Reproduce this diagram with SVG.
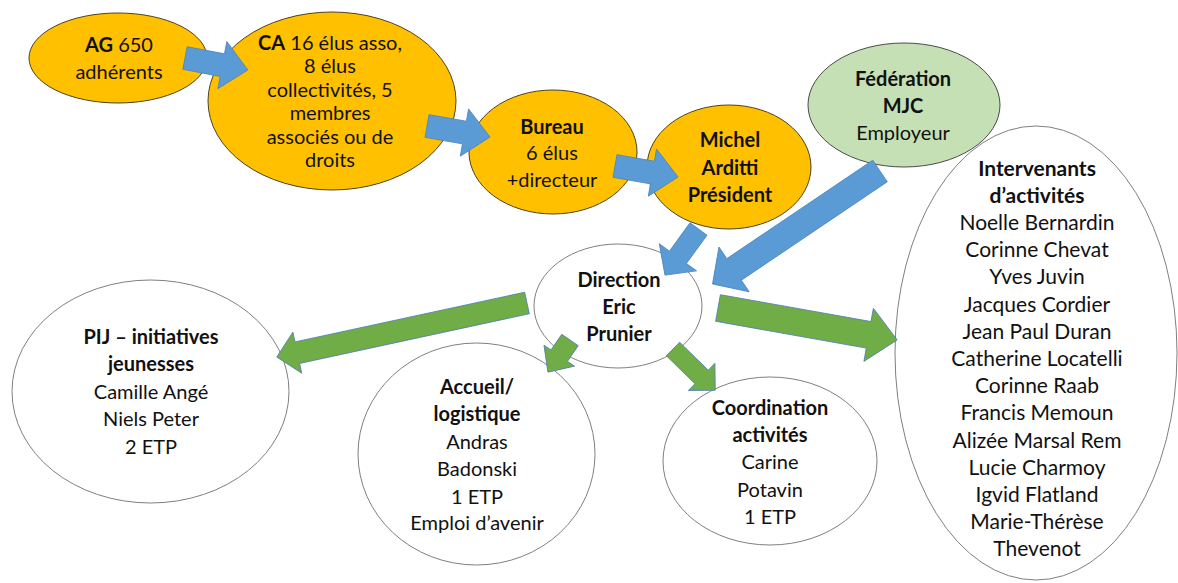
<svg xmlns="http://www.w3.org/2000/svg" width="1178" height="583" viewBox="0 0 1178 583">
<style>
text{font-family:Lato,"Liberation Sans",Arial,sans-serif;font-size:20px;fill:#111;text-anchor:middle}
.b{font-weight:bold}
.s19{font-size:20px}
.s21{font-size:21px}
.org{fill:#FFC000;stroke:#4d4220;stroke-width:1}
.grn{fill:#C5E0B4;stroke:#4a4a4a;stroke-width:1}
.wht{fill:#fff;stroke:#7f7f7f;stroke-width:1}
.blue{fill:#5B9BD5;stroke:#4a84bf;stroke-width:0.8}
.green{fill:#70AD47;stroke:#4f7fae;stroke-width:0.8}
</style>
<rect width="1178" height="583" fill="#fff"/>
<g id="ag">
<ellipse class="org" cx="118" cy="58" rx="89" ry="45"/>
<text><tspan x="119" y="52"><tspan class="b">AG</tspan> 650</tspan><tspan x="119" y="79">adhérents</tspan></text>
</g>
<g id="ca">
<ellipse class="org" cx="332" cy="101" rx="124" ry="89"/>
<text class="s19"><tspan x="330" y="49.5"><tspan class="b">CA</tspan> 16 élus asso,</tspan><tspan x="330" y="73">8 élus</tspan><tspan x="330" y="96.5">collectivités, 5</tspan><tspan x="330" y="120">membres</tspan><tspan x="330" y="143.5">associés ou de</tspan><tspan x="330" y="167">droits</tspan></text>
</g>
<g id="bureau">
<ellipse class="org" cx="553" cy="152" rx="84" ry="62"/>
<text><tspan class="b" x="552" y="134">Bureau</tspan><tspan x="552" y="160">6 élus</tspan><tspan x="552" y="187">+directeur</tspan></text>
</g>
<g id="president">
<ellipse class="org" cx="729" cy="167" rx="82" ry="62"/>
<text class="b"><tspan x="730" y="147">Michel</tspan><tspan x="730" y="175">Arditti</tspan><tspan x="730" y="202">Président</tspan></text>
</g>
<g id="federation">
<ellipse class="grn" cx="904" cy="105" rx="96" ry="62"/>
<text><tspan class="b" x="903" y="86">Fédération</tspan><tspan class="b" x="903" y="113">MJC</tspan><tspan x="903" y="140">Employeur</tspan></text>
</g>
<g id="direction">
<ellipse class="wht" cx="618" cy="306" rx="84" ry="62"/>
<text class="b"><tspan x="619" y="287">Direction</tspan><tspan x="619" y="314">Eric</tspan><tspan x="619" y="341">Prunier</tspan></text>
</g>
<g id="pij">
<ellipse class="wht" cx="150.5" cy="391.5" rx="138.5" ry="111.5"/>
<text><tspan class="b" x="151" y="344">PIJ – initiatives</tspan><tspan class="b" x="151" y="371">jeunesses</tspan><tspan x="151" y="399">Camille Angé</tspan><tspan x="151" y="426">Niels Peter</tspan><tspan x="151" y="454">2 ETP</tspan></text>
</g>
<g id="accueil">
<ellipse class="wht" cx="476.5" cy="454" rx="118.5" ry="111"/>
<text><tspan class="b" x="477" y="394">Accueil/</tspan><tspan class="b" x="477" y="421">logistique</tspan><tspan x="477" y="449">Andras</tspan><tspan x="477" y="476">Badonski</tspan><tspan x="477" y="504">1 ETP</tspan><tspan x="477" y="530">Emploi d’avenir</tspan></text>
</g>
<g id="coordination">
<ellipse class="wht" cx="770" cy="461" rx="107" ry="84"/>
<text><tspan class="b" x="770" y="415">Coordination</tspan><tspan class="b" x="770" y="442">activités</tspan><tspan x="770" y="469">Carine</tspan><tspan x="770" y="497">Potavin</tspan><tspan x="770" y="524">1 ETP</tspan></text>
</g>
<g id="intervenants">
<ellipse class="wht" cx="1036" cy="353" rx="141" ry="227"/>
<text class="s21"><tspan class="b" x="1037" y="175.5">Intervenants</tspan><tspan class="b" x="1037" y="202.7">d’activités</tspan><tspan x="1037" y="229.9">Noelle Bernardin</tspan><tspan x="1037" y="257.1">Corinne Chevat</tspan><tspan x="1037" y="284.3">Yves Juvin</tspan><tspan x="1037" y="311.5">Jacques Cordier</tspan><tspan x="1037" y="338.7">Jean Paul Duran</tspan><tspan x="1037" y="365.9">Catherine Locatelli</tspan><tspan x="1037" y="393.1">Corinne Raab</tspan><tspan x="1037" y="420.3">Francis Memoun</tspan><tspan x="1037" y="447.5">Alizée Marsal Rem</tspan><tspan x="1037" y="474.7">Lucie Charmoy</tspan><tspan x="1037" y="501.9">Igvid Flatland</tspan><tspan x="1037" y="529.1">Marie-Thérèse</tspan><tspan x="1037" y="556.3">Thevenot</tspan></text>
</g>
<g id="connectors">
<polygon class="blue" transform="translate(185,58) rotate(10.8)" points="0,-11.5 38,-11.5 38,-24 64,0 38,24 38,11.5 0,11.5"/>
<polygon class="blue" transform="translate(427,126) rotate(9.9)" points="0,-11.5 38,-11.5 38,-24 64,0 38,24 38,11.5 0,11.5"/>
<polygon class="blue" transform="translate(615,166) rotate(9.9)" points="0,-11.5 38,-11.5 38,-24 64,0 38,24 38,11.5 0,11.5"/>
<polygon class="blue" transform="translate(698.5,229) rotate(126)" points="0,-10.5 35,-10.5 35,-23 57,0 35,23 35,10.5 0,10.5"/>
<polygon class="blue" transform="translate(880,171) rotate(146)" points="0,-13 176,-13 176,-27 202,0 176,27 176,13 0,13"/>
<polygon class="green" transform="translate(527,303) rotate(167.8)" points="0,-11 235,-11 235,-21 256,0 235,21 235,11 0,11"/>
<polygon class="green" transform="translate(570,340) rotate(124.5)" points="0,-10 19,-10 19,-18.5 39,0 19,18.5 19,10 0,10"/>
<polygon class="green" transform="translate(673,349) rotate(44.3)" points="0,-9.5 40,-9.5 40,-19 59,0 40,19 40,9.5 0,9.5"/>
<polygon class="green" transform="translate(718,308) rotate(10.1)" points="0,-13.5 153,-13.5 153,-27 182,0 153,27 153,13.5 0,13.5"/>
</g>
</svg>
